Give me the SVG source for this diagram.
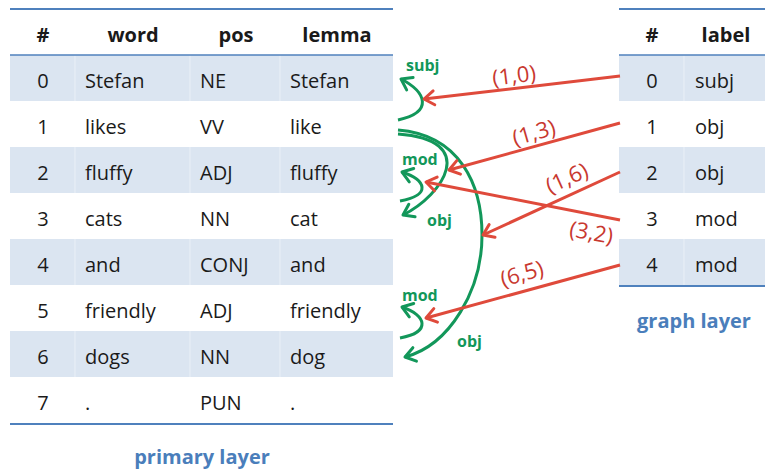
<svg xmlns="http://www.w3.org/2000/svg" width="765" height="470" viewBox="0 0 765 470">
<style>
.t{font-family:"Open Sans","Liberation Sans",sans-serif;font-size:20px;fill:#1a1a1a}
.h{font-family:"Open Sans","Liberation Sans",sans-serif;font-size:20px;font-weight:bold;fill:#1a1a1a}
.c{text-anchor:middle}
.sh{fill:#DBE5F1}
.sep{stroke:#EAF0F7;stroke-width:1}
.bl{stroke:#4F81BD;stroke-width:2}
.bl1{stroke:#4F81BD;stroke-width:1.5}
.cap{font-family:"Open Sans","Liberation Sans",sans-serif;font-size:20px;font-weight:bold;fill:#4A7EBB;text-anchor:middle}
.g{fill:none;stroke:#12975A;stroke-width:3}
.gl{font-family:"Open Sans","Liberation Sans",sans-serif;font-size:16px;font-weight:bold;fill:#12975A}
.r{fill:none;stroke:#DF4A3B;stroke-width:3}
.rl{font-family:"Open Sans","Liberation Sans",sans-serif;font-size:22px;fill:#C8382F;text-anchor:middle}
</style>
<defs>
<marker id="ga" markerUnits="userSpaceOnUse" markerWidth="30" markerHeight="30" viewBox="-15 -15 30 30" refX="0" refY="0" orient="auto" overflow="visible">
<path d="M-10,-7 L0,0 L-10,7" fill="none" stroke="#12975A" stroke-width="3" stroke-linecap="round" stroke-linejoin="round"/>
</marker>
<marker id="ra" markerUnits="userSpaceOnUse" markerWidth="30" markerHeight="30" viewBox="-15 -15 30 30" refX="0" refY="0" orient="auto" overflow="visible">
<path d="M-10,-7 L0,0 L-10,7" fill="none" stroke="#DF4A3B" stroke-width="3" stroke-linecap="round" stroke-linejoin="round"/>
</marker>
</defs>
<rect width="765" height="470" fill="#ffffff"/>

<g id="primary-layer">
<rect class="sh" x="10" y="55" width="383" height="46"/>
<rect class="sh" x="10" y="147" width="383" height="46"/>
<rect class="sh" x="10" y="239" width="383" height="46"/>
<rect class="sh" x="10" y="331" width="383" height="46"/>
<g class="sep">
<line x1="75" y1="55" x2="75" y2="101"/><line x1="190" y1="55" x2="190" y2="101"/><line x1="280" y1="55" x2="280" y2="101"/>
<line x1="75" y1="147" x2="75" y2="193"/><line x1="190" y1="147" x2="190" y2="193"/><line x1="280" y1="147" x2="280" y2="193"/>
<line x1="75" y1="239" x2="75" y2="285"/><line x1="190" y1="239" x2="190" y2="285"/><line x1="280" y1="239" x2="280" y2="285"/>
<line x1="75" y1="331" x2="75" y2="377"/><line x1="190" y1="331" x2="190" y2="377"/><line x1="280" y1="331" x2="280" y2="377"/>
</g>
<line class="bl" x1="10" y1="9" x2="393" y2="9"/>
<line class="bl1" x1="10" y1="55" x2="393" y2="55"/>
<line class="bl" x1="10" y1="424" x2="393" y2="424"/>
<g id="p-header">
<text class="h c" x="43" y="42">#</text>
<text class="h c" x="133" y="42">word</text>
<text class="h c" x="236" y="42">pos</text>
<text class="h c" x="337" y="42">lemma</text>
</g>
<g id="p-row0"><text class="t c" x="43" y="88">0</text><text class="t" x="85" y="88">Stefan</text><text class="t" x="200" y="88">NE</text><text class="t" x="290" y="88">Stefan</text></g>
<g id="p-row1"><text class="t c" x="43" y="134">1</text><text class="t" x="85" y="134">likes</text><text class="t" x="200" y="134">VV</text><text class="t" x="290" y="134">like</text></g>
<g id="p-row2"><text class="t c" x="43" y="180">2</text><text class="t" x="85" y="180">fluffy</text><text class="t" x="200" y="180">ADJ</text><text class="t" x="290" y="180">fluffy</text></g>
<g id="p-row3"><text class="t c" x="43" y="226">3</text><text class="t" x="85" y="226">cats</text><text class="t" x="200" y="226">NN</text><text class="t" x="290" y="226">cat</text></g>
<g id="p-row4"><text class="t c" x="43" y="272">4</text><text class="t" x="85" y="272">and</text><text class="t" x="200" y="272">CONJ</text><text class="t" x="290" y="272">and</text></g>
<g id="p-row5"><text class="t c" x="43" y="318">5</text><text class="t" x="85" y="318">friendly</text><text class="t" x="200" y="318">ADJ</text><text class="t" x="290" y="318">friendly</text></g>
<g id="p-row6"><text class="t c" x="43" y="364">6</text><text class="t" x="85" y="364">dogs</text><text class="t" x="200" y="364">NN</text><text class="t" x="290" y="364">dog</text></g>
<g id="p-row7"><text class="t c" x="43" y="410">7</text><text class="t" x="85" y="410">.</text><text class="t" x="200" y="410">PUN</text><text class="t" x="290" y="410">.</text></g>
<text class="cap" x="202" y="464">primary layer</text>
</g>

<g id="graph-layer">
<rect class="sh" x="619" y="55" width="146" height="46"/>
<rect class="sh" x="619" y="147" width="146" height="46"/>
<rect class="sh" x="619" y="239" width="146" height="46"/>
<g class="sep">
<line x1="684" y1="55" x2="684" y2="101"/><line x1="684" y1="147" x2="684" y2="193"/><line x1="684" y1="239" x2="684" y2="285"/>
</g>
<line class="bl" x1="619" y1="9" x2="765" y2="9"/>
<line class="bl1" x1="619" y1="55" x2="765" y2="55"/>
<line class="bl" x1="619" y1="286" x2="765" y2="286"/>
<g id="g-header"><text class="h c" x="652" y="42">#</text><text class="h c" x="726" y="42">label</text></g>
<g id="g-row0"><text class="t c" x="652" y="88">0</text><text class="t" x="695" y="88">subj</text></g>
<g id="g-row1"><text class="t c" x="652" y="134">1</text><text class="t" x="695" y="134">obj</text></g>
<g id="g-row2"><text class="t c" x="652" y="180">2</text><text class="t" x="695" y="180">obj</text></g>
<g id="g-row3"><text class="t c" x="652" y="226">3</text><text class="t" x="695" y="226">mod</text></g>
<g id="g-row4"><text class="t c" x="652" y="272">4</text><text class="t" x="695" y="272">mod</text></g>
<text class="cap" x="694" y="328">graph layer</text>
</g>

<g id="connectors">
<g id="dependency-arcs">
<path class="g" d="M398,120 C434,112 426,92 401,79" marker-end="url(#ga)"/>
<path class="g" d="M398,134 C480,140 443,195 403,215" marker-end="url(#ga)"/>
<path class="g" d="M398,130 C460,135 482,185 482,235 C482,290 450,345 405,357" marker-end="url(#ga)"/>
<path class="g" d="M400,201 C432,195 426,180 402,172" marker-end="url(#ga)"/>
<path class="g" d="M400,338 C432,332 426,315 402,307" marker-end="url(#ga)"/>
<text class="gl" x="406" y="71">subj</text>
<text class="gl" x="402" y="165">mod</text>
<text class="gl" x="427" y="226">obj</text>
<text class="gl" x="402" y="301">mod</text>
<text class="gl" x="457" y="347">obj</text>
</g>
<g id="edge-links">
<line class="r" x1="620" y1="76" x2="424" y2="99" marker-end="url(#ra)"/>
<line class="r" x1="620" y1="123" x2="449" y2="170" marker-end="url(#ra)"/>
<line class="r" x1="620" y1="172" x2="483" y2="235" marker-end="url(#ra)"/>
<line class="r" x1="620" y1="220" x2="426" y2="182" marker-end="url(#ra)"/>
<line class="r" x1="620" y1="265" x2="426" y2="318" marker-end="url(#ra)"/>
<text class="rl" transform="translate(515,83) rotate(-7)">(1,0)</text>
<text class="rl" transform="translate(536,140) rotate(-16)">(1,3)</text>
<text class="rl" transform="translate(570,185) rotate(-24)">(1,6)</text>
<text class="rl" transform="translate(590,240) rotate(10)">(3,2)</text>
<text class="rl" transform="translate(524,281) rotate(-16)">(6,5)</text>
</g>
</g>
</svg>
